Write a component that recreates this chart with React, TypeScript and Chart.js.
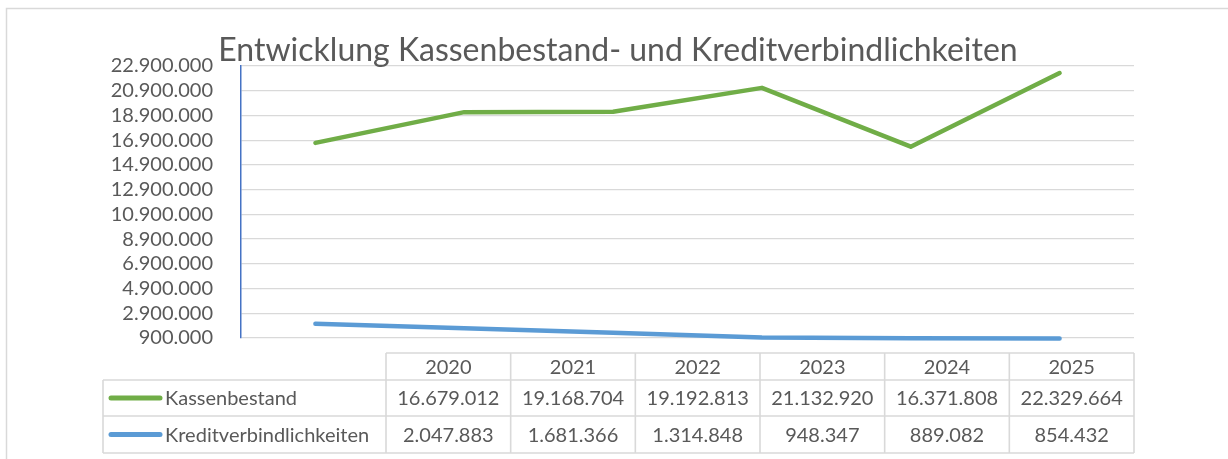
import React, { useEffect, useRef } from "react";
import { Chart, registerables } from "chart.js";

Chart.register(...registerables);

const years = ["2020", "2021", "2022", "2023", "2024", "2025"];
const kassenbestand = [16679012, 19168704, 19192813, 21132920, 16371808, 22329664];
const kreditverbindlichkeiten = [2047883, 1681366, 1314848, 948347, 889082, 854432];
const yTicks = [
  900000, 2900000, 4900000, 6900000, 8900000, 10900000,
  12900000, 14900000, 16900000, 18900000, 20900000, 22900000,
];
const seriesNames = ["Kassenbestand", "Kreditverbindlichkeiten"];
const seriesColors = ["#70AD47", "#5B9BD5"];
const titleText = "Entwicklung Kassenbestand- und Kreditverbindlichkeiten";

const W = 1228;
const H = 459;
const FONT = "Lato, 'Open Sans', sans-serif";
const TEXT = "#595959";
const GRID = "#D9D9D9";

const fmt = (n: number) =>
  String(Math.round(n)).replace(/\B(?=(\d{3})+(?!\d))/g, ".");

const tablePlugin = {
  id: "tablePlugin",
  afterDraw(chart: any) {
    const ctx = chart.ctx as CanvasRenderingContext2D;
    ctx.save();
    // outer frame (top + left visible)
    ctx.strokeStyle = GRID;
    ctx.lineWidth = 1.5;
    ctx.beginPath();
    ctx.moveTo(6.5, H);
    ctx.lineTo(6.5, 8.5);
    ctx.lineTo(W, 8.5);
    ctx.stroke();

    // title
    ctx.fillStyle = TEXT;
    ctx.font = `32px ${FONT}`;
    ctx.textAlign = "center";
    ctx.textBaseline = "alphabetic";
    ctx.fillText(titleText, 618, 61);

    // data table
    const labelLeft = 103;
    const colLeft = 386;
    const colRight = 1134;
    const rows = [353, 380, 416, 453];
    const colW = (colRight - colLeft) / years.length;
    ctx.strokeStyle = GRID;
    ctx.lineWidth = 1.6;
    ctx.beginPath();
    ctx.moveTo(colLeft, rows[0]);
    ctx.lineTo(colRight, rows[0]);
    for (let r = 1; r < rows.length; r++) {
      ctx.moveTo(labelLeft, rows[r]);
      ctx.lineTo(colRight, rows[r]);
    }
    ctx.moveTo(labelLeft, rows[1]);
    ctx.lineTo(labelLeft, rows[3]);
    for (let c = 0; c <= years.length; c++) {
      const x = colLeft + c * colW;
      ctx.moveTo(x, rows[0]);
      ctx.lineTo(x, rows[3]);
    }
    ctx.stroke();

    ctx.font = `20px ${FONT}`;
    ctx.fillStyle = TEXT;
    ctx.textBaseline = "middle";
    ctx.textAlign = "center";
    years.forEach((y, i) => {
      ctx.fillText(y, colLeft + (i + 0.5) * colW, (rows[0] + rows[1]) / 2 + 1);
    });
    const series = [kassenbestand, kreditverbindlichkeiten];
    series.forEach((vals, s) => {
      const cy = (rows[s + 1] + rows[s + 2]) / 2 + 1;
      vals.forEach((v, i) => {
        ctx.fillText(fmt(v), colLeft + (i + 0.5) * colW, cy);
      });
      // legend key
      ctx.strokeStyle = seriesColors[s];
      ctx.lineWidth = 5;
      ctx.lineCap = "round";
      ctx.beginPath();
      ctx.moveTo(111, cy - 1);
      ctx.lineTo(160, cy - 1);
      ctx.stroke();
      ctx.textAlign = "left";
      ctx.fillText(seriesNames[s], 165, cy);
      ctx.textAlign = "center";
    });
    ctx.restore();
  },
};

export default function App() {
  const ref = useRef<HTMLCanvasElement | null>(null);
  useEffect(() => {
    document.body.style.margin = "0";
    const canvas = ref.current;
    if (!canvas) return;
    const chart = new Chart(canvas, {
      type: "line",
      data: {
        labels: years,
        datasets: [kassenbestand, kreditverbindlichkeiten].map((d, i) => ({
          label: seriesNames[i],
          data: d,
          borderColor: seriesColors[i],
          backgroundColor: seriesColors[i],
          borderWidth: 4.5,
          borderCapStyle: "round" as const,
          borderJoinStyle: "round" as const,
          pointRadius: 0,
          tension: 0,
          clip: false as any,
        })),
      },
      options: {
        responsive: false,
        animation: false,
        devicePixelRatio: 1,
        layout: { padding: { top: 66, right: 94, bottom: 121, left: 0 } },
        plugins: {
          legend: { display: false },
          title: { display: false },
          tooltip: { enabled: false },
        },
        scales: {
          x: { type: "category", display: false, offset: true },
          y: {
            min: yTicks[0],
            max: yTicks[yTicks.length - 1],
            afterBuildTicks: (s: any) => {
              s.ticks = yTicks.map((v) => ({ value: v }));
            },
            afterFit: (s: any) => {
              s.width = 241;
            },
            ticks: {
              autoSkip: false,
              padding: 28,
              color: TEXT,
              font: { family: FONT, size: 20 },
              callback: (v: any) => fmt(Number(v)),
            },
            grid: { color: GRID, lineWidth: 1.3, drawTicks: false },
            border: { display: true, color: "#4472C4", width: 1.5 },
          },
        },
      },
      plugins: [tablePlugin],
    });
    return () => chart.destroy();
  }, []);
  return (
    <div style={{ width: W, height: H, background: "#fff" }}>
      <canvas ref={ref} width={W} height={H} style={{ display: "block" }} />
    </div>
  );
}
